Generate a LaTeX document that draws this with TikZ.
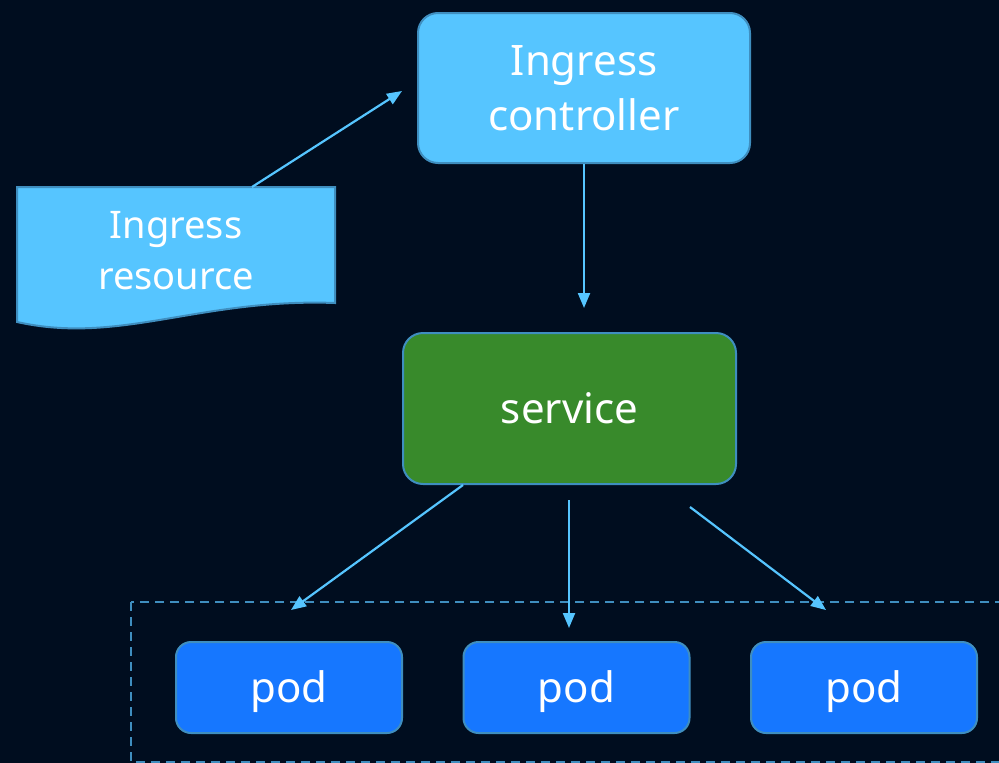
\documentclass[tikz,border=0pt]{standalone}
\usepackage{fontspec}
\setmainfont{Noto Sans}
\usetikzlibrary{arrows.meta}
\definecolor{bgnavy}{HTML}{000D1F}
\definecolor{skyfill}{HTML}{56C5FF}
\definecolor{rim}{HTML}{3F8EBF}
\definecolor{svcgreen}{HTML}{388A2B}
\definecolor{podblue}{HTML}{1677FF}
\begin{document}
\begin{tikzpicture}[x=1pt,y=-1pt]
\tikzset{box/.style = {draw=rim,line width=2pt,rounded corners=20pt,text=white,align=center,font=\fontsize{42}{55}\selectfont}}
\tikzset{podbox/.style = {box,fill=podblue,minimum width=226pt,minimum height=91pt,rounded corners=15pt,text height=38pt,text depth=8pt}}
\tikzset{edge/.style = {draw=skyfill,line width=2.2pt,-{Triangle[length=15pt,width=12pt]}}}
\path[use as bounding box,fill=bgnavy] (0,0) rectangle (999,763);
% ingress resource (document shape)
\filldraw[fill=skyfill,draw=rim,line width=2pt] (17,187) -- (335,187) -- (335,303)
  .. controls (200,298) and (120,345) .. (17,322) -- cycle;
\node[text=white,align=center,font=\fontsize{38}{51}\selectfont] (res) at (176,251) {Ingress\\resource};
% controller and service
\node[box,fill=skyfill,minimum width=332pt,minimum height=150pt] (ctrl) at (584,88) {Ingress\\controller};
\node[box,fill=svcgreen,minimum width=333pt,minimum height=151pt] (svc) at (569.5,408.5) {service};
% pods
\draw[rim,line width=2.2pt,dash pattern=on 9pt off 6pt] (131,602) rectangle (1015,762);
\node[podbox] (podA) at (289,687.5) {pod};
\node[podbox] (podB) at (576.5,687.5) {pod};
\node[podbox] (podC) at (864,687.5) {pod};
% arrow ends
\coordinate (resOut) at (252,187);
\coordinate (ctrlIn) at (402,91);
\coordinate (svcIn) at (584,308);
\coordinate (svcOutA) at (463,485);
\coordinate (svcOutB) at (569,500);
\coordinate (svcOutC) at (690,507);
\coordinate (podInA) at (291,610);
\coordinate (podInB) at (569,628);
\coordinate (podInC) at (826,610);
\draw[edge] (resOut) -- (ctrlIn);
\draw[edge] (ctrl.south) -- (svcIn);
\draw[edge] (svcOutA) -- (podInA);
\draw[edge] (svcOutB) -- (podInB);
\draw[edge] (svcOutC) -- (podInC);
\end{tikzpicture}
\end{document}
